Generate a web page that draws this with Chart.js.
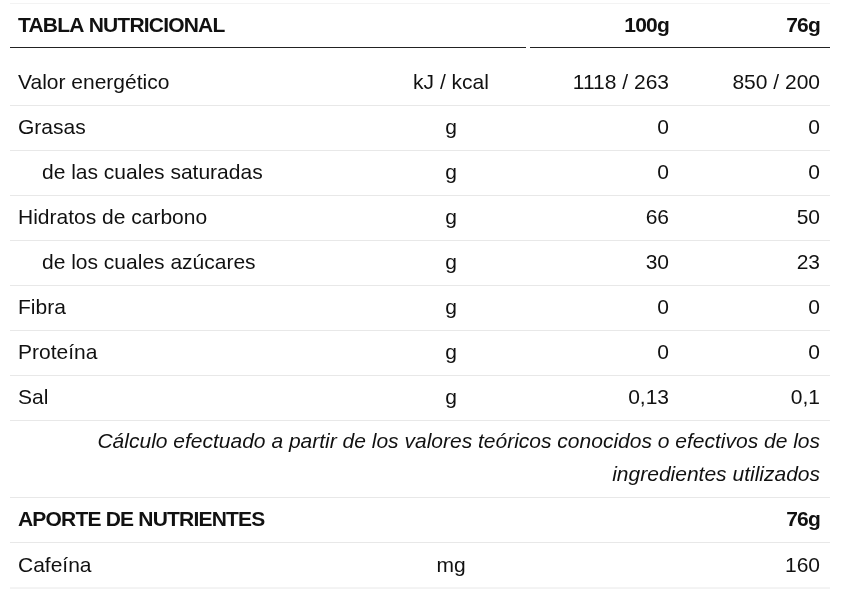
<!doctype html>
<html>
<head>
<meta charset="utf-8" />
<script src="https://cdn.jsdelivr.net/npm/chart.js@4"></script>
<style>
html, body { margin: 0; padding: 0; background: #fff; }
#wrap { width: 856px; height: 591px; position: relative; }
</style>
</head>
<body>
<div id="wrap"><canvas id="c"></canvas></div>
<script>
const headers = ["TABLA NUTRICIONAL", "", "100g", "76g"];
const nutrients = ["Valor energético", "Grasas", "de las cuales saturadas", "Hidratos de carbono",
  "de los cuales azúcares", "Fibra", "Proteína", "Sal"];
const indented = [false, false, true, false, true, false, false, false];
const units = ["kJ / kcal", "g", "g", "g", "g", "g", "g", "g"];
const per100g = ["1118 / 263", "0", "0", "66", "30", "0", "0", "0,13"];
const per76g = ["850 / 200", "0", "0", "50", "23", "0", "0", "0,1"];
const footnote = ["Cálculo efectuado a partir de los valores teóricos conocidos o efectivos de los",
  "ingredientes utilizados"];
const extraHeader = ["APORTE DE NUTRIENTES", "76g"];
const extraRows = ["Cafeína"];
const extraUnits = ["mg"];
const extraValues = ["160"];

// row slots and their vertical layout (pixel-like units on the hidden y scale)
const rowKeys = ["h"].concat(nutrients.map((_, i) => "n" + i), ["f0", "f1", "a", "c0"]);
const rowY = [26, 83, 128, 173, 218, 263, 308, 353, 398, 442, 475, 520, 566];

const tablePlugin = {
  id: "table",
  afterDraw(chart) {
    const ctx = chart.ctx;
    const y = chart.scales.y;
    const py = k => y.getPixelForValue(rowY[rowKeys.indexOf(k)]);
    const fam = "'Liberation Sans', Arial, sans-serif";
    const font = "21px " + fam;
    const bold = "bold 21px " + fam;
    const line = (x1, x2, yy, col, w) => {
      ctx.strokeStyle = col; ctx.lineWidth = w;
      ctx.beginPath(); ctx.moveTo(x1, yy); ctx.lineTo(x2, yy); ctx.stroke();
    };
    const txt = (s, x, yy, align, f, col) => {
      ctx.font = f; ctx.fillStyle = col || "#111"; ctx.textAlign = align;
      ctx.textBaseline = "middle"; ctx.fillText(s, x, yy);
    };
    ctx.save();
    ctx.save();
    ctx.letterSpacing = "-0.8px";
    txt(headers[0], 18, py("h"), "left", bold);
    txt(headers[2], 669, py("h"), "right", bold);
    txt(headers[3], 820, py("h"), "right", bold);
    ctx.restore();
    line(10, 526, 47.5, "#222", 1.2);
    line(530, 830, 47.5, "#222", 1.2);
    line(10, 830, 3.5, "#f3f3f3", 1);
    nutrients.forEach((n, i) => {
      const yy = py("n" + i);
      txt(n, indented[i] ? 42 : 18, yy, "left", font);
      txt(units[i], 451, yy, "center", font);
      txt(per100g[i], 669, yy, "right", font);
      txt(per76g[i], 820, yy, "right", font);
      line(10, 830, yy + 22.5, "#e8e8e8", 1);
    });
    footnote.forEach((f, i) => {
      txt(f, 820, py("f" + i), "right", "italic 21px " + fam);
    });
    line(10, 830, 497.5, "#e8e8e8", 1);
    ctx.save();
    ctx.letterSpacing = "-0.8px";
    txt(extraHeader[0], 18, py("a"), "left", bold);
    txt(extraHeader[1], 820, py("a"), "right", bold);
    ctx.restore();
    line(10, 830, 542.5, "#e8e8e8", 1);
    extraRows.forEach((r, i) => {
      const yy = py("c" + i);
      txt(r, 18, yy, "left", font);
      txt(extraUnits[i], 451, yy, "center", font);
      txt(extraValues[i], 820, yy, "right", font);
      line(10, 830, yy + 22, "#e8e8e8", 1);
    });
    ctx.restore();
  }
};

new Chart(document.getElementById("c"), {
  type: "scatter",
  data: {
    datasets: [{
      data: rowY.map(v => ({ x: 0, y: v })),
      pointRadius: 0
    }]
  },
  options: {
    responsive: true,
    maintainAspectRatio: false,
    animation: false,
    layout: { padding: 0 },
    plugins: { legend: { display: false }, tooltip: { enabled: false } },
    scales: {
      x: { display: false, min: 0, max: 1 },
      y: { display: false, reverse: true, min: 0, max: 591 }
    }
  },
  plugins: [tablePlugin]
});
</script>
</body>
</html>
